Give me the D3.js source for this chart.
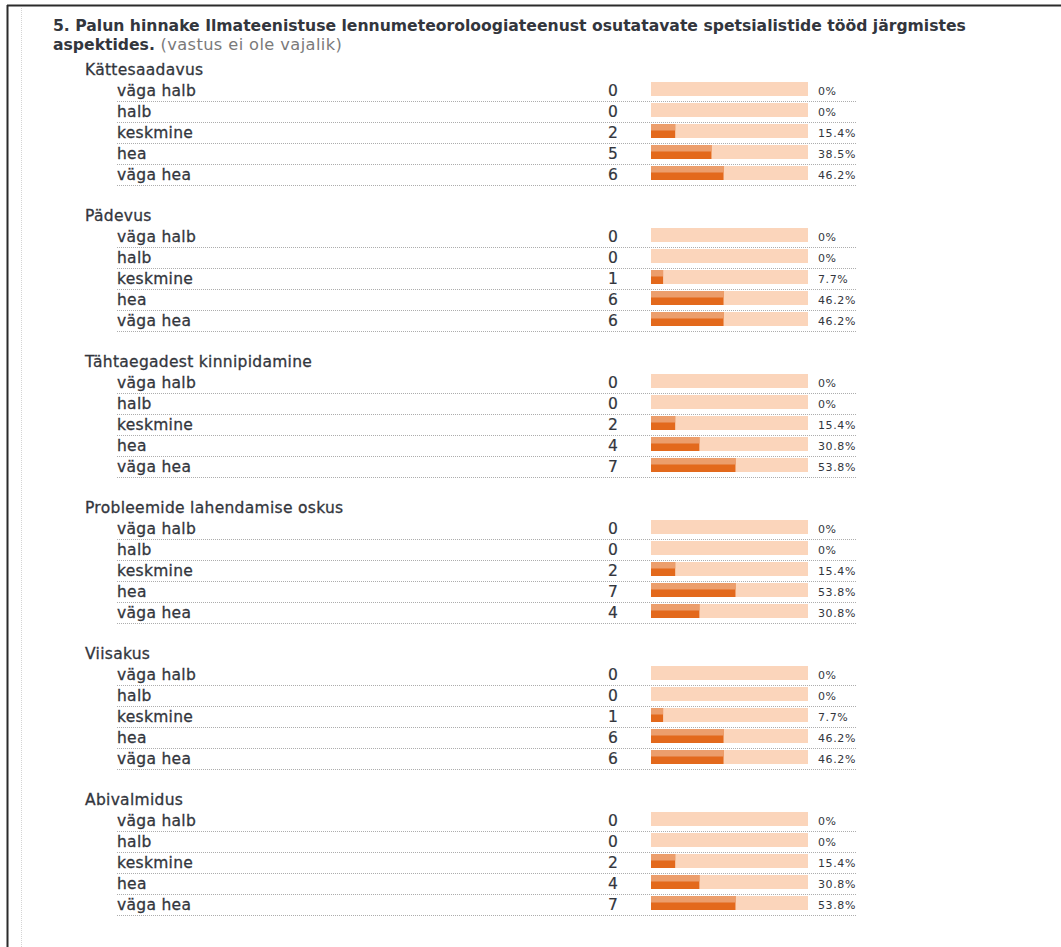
<!DOCTYPE html>
<html>
<head>
<meta charset="utf-8">
<script src="https://cdn.jsdelivr.net/npm/d3@7"></script>
<style>
  body { margin: 0; background: #fff; }
  svg { display: block; font-family: "DejaVu Sans", Verdana, sans-serif; }
</style>
</head>
<body>
<svg width="1061" height="947"></svg>
<script>
// data
const questionTitle = "5. Palun hinnake Ilmateenistuse lennumeteoroloogiateenust osutatavate spetsialistide tööd järgmistes";
const questionTitle2 = "aspektides.";
const questionNote = " (vastus ei ole vajalik)";

const aspects = ["Kättesaadavus", "Pädevus", "Tähtaegadest kinnipidamine",
                 "Probleemide lahendamise oskus", "Viisakus", "Abivalmidus"];
const answers = ["väga halb", "halb", "keskmine", "hea", "väga hea"];

// counts per aspect, in order of answers
const counts = [
  [0, 0, 2, 5, 6],
  [0, 0, 1, 6, 6],
  [0, 0, 2, 4, 7],
  [0, 0, 2, 7, 4],
  [0, 0, 1, 6, 6],
  [0, 0, 2, 4, 7]
];
const percents = [
  [0, 0, 15.4, 38.5, 46.2],
  [0, 0, 7.7, 46.2, 46.2],
  [0, 0, 15.4, 30.8, 53.8],
  [0, 0, 15.4, 53.8, 30.8],
  [0, 0, 7.7, 46.2, 46.2],
  [0, 0, 15.4, 30.8, 53.8]
];

const svg = d3.select("svg"),
    width = +svg.attr("width"),
    height = +svg.attr("height");

const ink = "#33363d";

// frame
svg.append("line").attr("x1", 7).attr("x2", width).attr("y1", 5.5).attr("y2", 5.5)
    .style("stroke", "#2b2b2b").style("stroke-width", 2);
svg.append("line").attr("x1", 7.5).attr("x2", 7.5).attr("y1", 5).attr("y2", height)
    .style("stroke", "#2b2b2b").style("stroke-width", 2);
svg.append("line").attr("x1", 21.5).attr("x2", 21.5).attr("y1", 8).attr("y2", height)
    .style("stroke", "#d4d4d4").style("stroke-dasharray", "1,1");

// title
const title = svg.append("text")
    .attr("x", 53).attr("y", 31)
    .style("font-size", "14px").style("font-weight", "bold").style("fill", ink)
    .text(questionTitle);
// fit to the reference width
const tl = title.node().getComputedTextLength();
const titleSize = 14 * 914 / tl;
title.style("font-size", titleSize + "px");

const t2 = svg.append("text")
    .attr("x", 53).attr("y", 50)
    .style("font-size", titleSize + "px").style("fill", ink);
t2.append("tspan").style("font-weight", "bold").text(questionTitle2);
t2.append("tspan").style("fill", "#7a7a7a").style("font-size", (titleSize + 0.6) + "px")
    .style("letter-spacing", "0.4px").text(questionNote);

// layout
const groupY = d3.scaleLinear().domain([0, 1]).range([75, 221]);   // baseline of aspect title
const rowY = d3.scaleLinear().domain([0, 1]).range([21, 42]);       // row baseline offset
const barX = d3.scaleLinear().domain([0, 100]).range([651, 808]);

const labelStyle = sel => sel
    .style("font-size", "15.5px").style("letter-spacing", "0.3px")
    .style("fill", ink).style("stroke", ink).style("stroke-width", 0.3);

const groups = svg.append("g").classed("groups", true)
    .selectAll(".group")
    .data(aspects.map((a, i) => ({name: a, i: i})))
    .join("g")
      .classed("group", true)
      .attr("transform", d => `translate(0,${groupY(d.i)})`);

groups.append("text")
    .attr("x", 85).attr("y", 0)
    .call(labelStyle)
    .text(d => d.name);

const rows = groups.selectAll(".row")
    .data(d => answers.map((ans, j) => ({ans: ans, j: j, n: counts[d.i][j], p: percents[d.i][j]})))
    .join("g")
      .classed("row", true)
      .attr("transform", d => `translate(0,${rowY(d.j)})`);

rows.append("text")
    .attr("x", 117).attr("y", 0)
    .call(labelStyle)
    .text(d => d.ans);

rows.append("line")
    .attr("x1", 117).attr("x2", 857).attr("y1", 5.5).attr("y2", 5.5)
    .style("stroke", "#adadad").style("stroke-dasharray", "1,1");

rows.append("text")
    .attr("x", 613).attr("y", 0)
    .attr("text-anchor", "middle")
    .style("font-size", "15.5px").style("fill", ink)
    .style("stroke", ink).style("stroke-width", 0.2)
    .text(d => d.n);

// background bar
rows.append("rect")
    .attr("x", barX(0)).attr("y", -14)
    .attr("width", barX(100) - barX(0)).attr("height", 14)
    .style("fill", "#fbd5bb");

// value bar, lighter upper half
rows.append("rect")
    .attr("x", barX(0)).attr("y", -14)
    .attr("width", d => barX(d.p) - barX(0)).attr("height", 14)
    .style("fill", "#e3691c");
rows.append("rect")
    .attr("x", barX(0)).attr("y", -14)
    .attr("width", d => barX(d.p) - barX(0)).attr("height", 6.5)
    .style("fill", "#ec9e6c");

rows.append("text")
    .attr("x", 818).attr("y", -1.5)
    .style("font-size", "11px").style("letter-spacing", "0.6px").style("fill", ink)
    .text(d => d.p + "%");
</script>
</body>
</html>
